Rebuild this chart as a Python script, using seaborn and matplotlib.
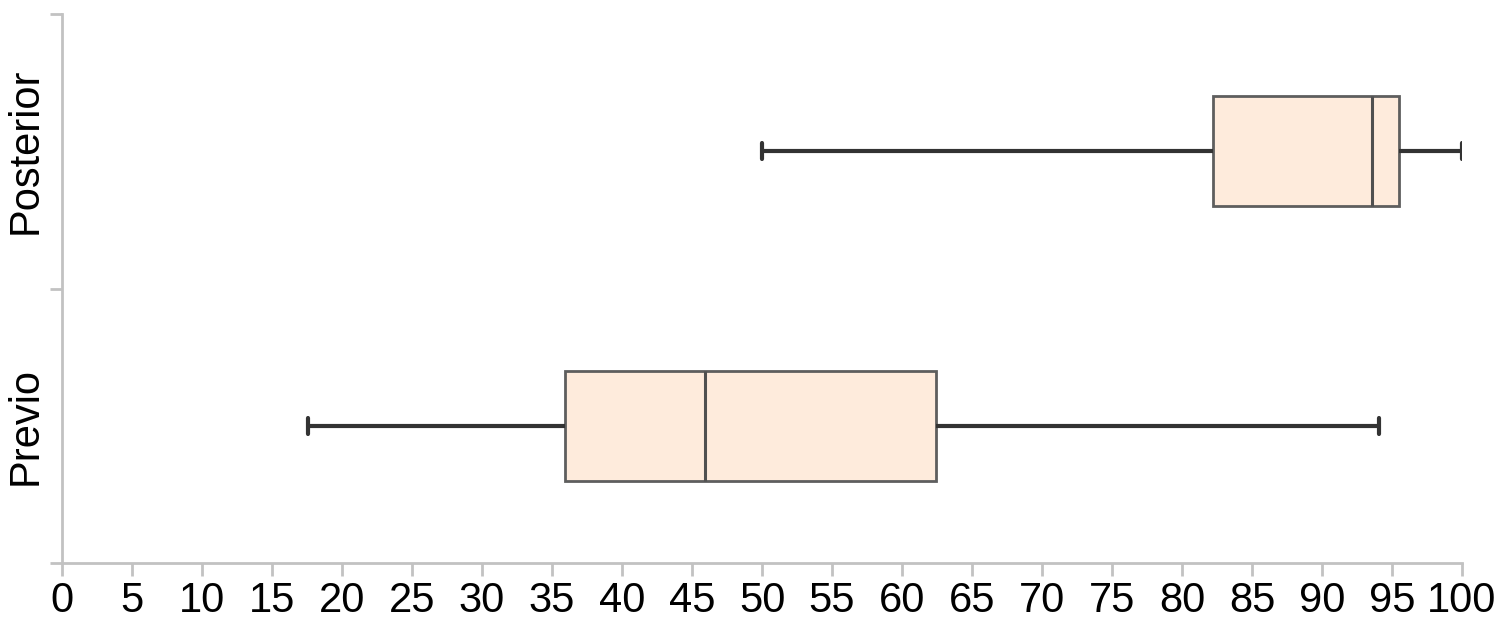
import numpy as np
import pandas as pd
import matplotlib
matplotlib.use("Agg")
import matplotlib.pyplot as plt
import seaborn as sns

# Resumen de cinco números (mín, Q1, mediana, Q3, máx)
grupos = ["Posterior", "Previo"]
minimos = [50.0, 17.6]
q1 = [82.2, 35.9]
medianas = [93.6, 45.9]
q3 = [95.5, 62.4]
maximos = [100.0, 94.1]

# Con 5 valores, los percentiles 0/25/50/75/100 coinciden exactamente con el resumen
filas = []
for i, g in enumerate(grupos):
    for v in [minimos[i], q1[i], medianas[i], q3[i], maximos[i]]:
        filas.append({"grupo": g, "valor": v})
datos = pd.DataFrame(filas)

sns.set_style("white")
plt.rcParams["font.family"] = ["Liberation Sans", "DejaVu Sans"]
plt.rcParams["text.color"] = "black"
plt.rcParams["xtick.color"] = "black"
plt.rcParams["ytick.color"] = "black"

gris = "#c2c2c2"
fig = plt.figure(figsize=(14.98, 6.27), dpi=100)
ax = fig.add_axes([62 / 1498, 64 / 627, 1400 / 1498, 549 / 627])

sns.boxplot(data=datos, x="valor", y="grupo", order=grupos, orient="h",
            whis=(0, 100), width=0.4, color="#feebdc", saturation=1,
            linecolor="#5e5e5e", linewidth=2, showfliers=False, capwidths=0.06,
            whiskerprops={"color": "#333333", "linewidth": 3},
            capprops={"color": "#333333", "linewidth": 3},
            medianprops={"color": "#505050", "linewidth": 2.2},
            ax=ax)

ax.set_xlim(0, 100)
ax.set_ylim(1.5, -0.5)
ax.set_xticks(np.arange(0, 101, 5))
ax.set_yticks([-0.5, 0.5, 1.5])
ax.set_yticklabels([])
ax.set_yticks([0, 1], minor=True)
ax.set_yticklabels(grupos, minor=True, rotation=90, va="center", fontsize=30)
ax.tick_params(axis="y", which="minor", length=0, pad=12)
ax.tick_params(axis="y", which="major", length=9, width=2, color=gris, left=True)
ax.tick_params(axis="x", length=9, width=2, color=gris, labelsize=30,
               labelcolor="black", pad=4, bottom=True)
ax.set_xlabel("")
ax.set_ylabel("")

for lado in ["top", "right"]:
    ax.spines[lado].set_visible(False)
for lado in ["left", "bottom"]:
    ax.spines[lado].set_color(gris)
    ax.spines[lado].set_linewidth(2)

fig.savefig("out.png", dpi=100)
